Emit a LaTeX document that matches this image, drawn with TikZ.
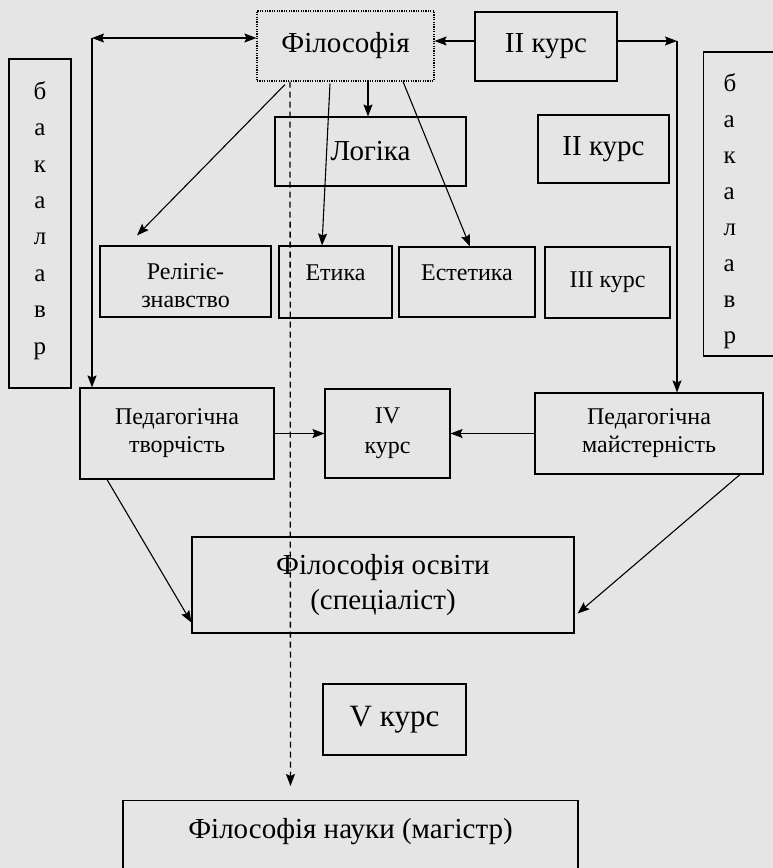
\documentclass[tikz,border=0pt]{standalone}
\usepackage{fontspec}
\setmainfont{Liberation Serif}
\usetikzlibrary{arrows.meta, positioning, calc}

\begin{document}
\begin{tikzpicture}[x=1pt, y=-1pt, >={Stealth[length=12pt, width=9pt, inset=2pt]},
  box/.style={draw, line width=1.1pt, inner sep=0pt, align=center},
  big/.style={font=\fontsize{29}{35}\selectfont},
  mid/.style={font=\fontsize{24}{30}\selectfont},
  small/.style={font=\fontsize{24}{28}\selectfont},
  letters/.style={font=\fontsize{25}{36.4}\selectfont},
  link/.style={->, line width=1.1pt}]
  \useasboundingbox (0,0) rectangle (773,868);
  \fill[black!10] (0,0) rectangle (773,868);
  % --- top row ---
  \node[box, big, dash pattern=on 1.2pt off 1.2pt, minimum width=177pt, minimum height=70pt] (phil) at (345.5,46) {Філософія};
  \node[box, big, minimum width=142pt, minimum height=69pt] (kurs2a) at (546,46.5) {II курс};
  \node[box, letters, minimum width=62pt, minimum height=329pt] (bakl) at (40,223.5) {б\\а\\к\\а\\л\\а\\в\\р\rule[-11.5pt]{0pt}{1pt}};
  \node[box, letters, font=\fontsize{25}{36}\selectfont, anchor=west, inner xsep=20pt, text width=60pt, align=left, minimum height=304pt] (bakr) at (703,204) {\rule{0pt}{32pt}б\\а\\к\\а\\л\\а\\в\\р};
  \node[box, big, minimum width=191pt, minimum height=69pt] (logika) at (370.5,151.5) {Логіка};
  \node[box, big, minimum width=131pt, minimum height=68pt] (kurs2b) at (603.5,149) {II курс};
  % --- disciplines ---
  \node[box, small, minimum width=171pt, minimum height=71pt] (relig) at (185.5,281.5) {\rule{0pt}{24pt}Релігіє-\\знавство};
  \node[box, small, minimum width=113pt, minimum height=72pt] (etyka) at (335.5,282) {\rule{0pt}{24pt}Етика\\\mbox{}};
  \node[box, small, minimum width=136pt, minimum height=70pt] (estet) at (467,282) {\rule{0pt}{24pt}Естетика\\\mbox{}};
  \node[box, small, minimum width=125pt, minimum height=71pt] (kurs3) at (607.5,282.5) {III курс};
  % --- pedagogy ---
  \node[box, small, minimum width=194pt, minimum height=91pt] (tvor) at (177,433.5) {Педагогічна\\творчість};
  \node[box, mid, minimum width=125pt, minimum height=89pt] (kurs4) at (387.5,433.5) {IV\\курс};
  \node[box, small, minimum width=228pt, minimum height=81pt] (maist) at (649,433.5) {Педагогічна\\майстерність};
  % --- specialist and master ---
  \node[box, big, minimum width=382pt, minimum height=96pt] (osvita) at (383,585) {Філософія освіти\\(спеціаліст)};
  \node[box, big, font=\fontsize{31}{35}\selectfont, minimum width=143pt, minimum height=71pt] (kurs5) at (394.5,719.5) {V курс};
  \node[box, big, anchor=north, minimum width=455pt, inner ysep=18pt, text height=20pt, text depth=60pt] (nauka) at (350.5,800) {Філософія науки (магістр)};
  % --- connectors ---
  \coordinate (lcorner) at (92,38);
  \coordinate (rcorner) at (677,41);
  \draw[link, <->] (lcorner) -- (phil.west |- lcorner);
  \draw[link] (lcorner) -- (lcorner |- tvor.north);
  \draw[link] (kurs2a.west |- rcorner) -- (phil.east |- rcorner);
  \draw[link] (kurs2a.east |- rcorner) -- (rcorner);
  \draw[link] (rcorner) -- (rcorner |- maist.north);
  \draw[link] ($(phil.south)+(-60.5,3)$) -- ($(relig.north)+(-48.5,-10)$);
  \draw[link] ($(phil.south)+(-15.5,2)$) -- ($(etyka.north)+(-13.5,0)$);
  \draw[link] ($(phil.south)+(22.5,0)$) -- ($(logika.north)+(-2.5,0)$);
  \draw[link] ($(phil.south)+(57.5,0)$) -- ($(estet.north)+(3,0)$);
  \draw[link, line width=1.3pt, dash pattern=on 6pt off 4pt, shorten >=14pt] ($(phil.south)+(-55.5,0)$) -- ($(nauka.north)+(-60,0)$);
  \draw[link] (tvor.east) -- (kurs4.west);
  \draw[link] (maist.west) -- (kurs4.east);
  \draw[link] ($(tvor.south)+(-70,0)$) -- ($(osvita.south west)+(0,-11)$);
  \draw[link] ($(maist.south)+(91,0)$) -- ($(osvita.south east)+(3,-20)$);
\end{tikzpicture}
\end{document}
